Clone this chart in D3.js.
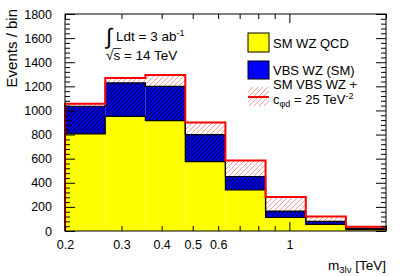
<!DOCTYPE html>
<html><head><meta charset="utf-8">
<script src="https://cdn.jsdelivr.net/npm/d3@7"></script>
<style>
html,body{margin:0;padding:0;background:#fff;}
text{font-family:"Liberation Sans",Arial,sans-serif;fill:#000;}
</style></head>
<body><svg id="c" width="407" height="276"></svg>
<script>
// bin edges (TeV), log-spaced
const binEdges = [0.2, 0.267, 0.356, 0.474, 0.632, 0.843, 1.125, 1.5, 2.0];
// SM WZ QCD events per bin
const qcdValues = [805, 950, 915, 575, 340, 112, 55, 12];
// VBS WZ (SM) events per bin (stacked on QCD)
const vbsValues = [230, 278, 285, 225, 112, 53, 25, 10];
// SM VBS WZ + c_phid = 25 TeV^-2 : total stack height
const eftTotal = [1055, 1270, 1295, 900, 585, 282, 120, 35];
const yTickValues = [0, 200, 400, 600, 800, 1000, 1200, 1400, 1600, 1800];
const xTickLabels = [0.2, 0.3, 0.4, 0.5, 0.6, 1];
const xTickMinor = [0.7, 0.8, 0.9, 2];

const svg = d3.select("#c");
const L = 65, R = 386, T = 14, B = 231;
const x = d3.scaleLog().domain([0.2, 2]).range([L, R]);
const y = d3.scaleLinear().domain([0, 1800]).range([B, T]);

const defs = svg.append("defs");
const pb = defs.append("pattern").attr("id", "hb").attr("patternUnits", "userSpaceOnUse")
  .attr("width", 4).attr("height", 4);
pb.append("rect").attr("width", 4).attr("height", 4).attr("fill", "#0000ff");
pb.append("path").attr("d", "M-1,1 l2,-2 M0,4 l4,-4 M3,5 l2,-2").attr("stroke", "#000046").attr("stroke-width", 1.1);
const pr = defs.append("pattern").attr("id", "hr").attr("patternUnits", "userSpaceOnUse")
  .attr("width", 5).attr("height", 5);
pr.append("rect").attr("width", 5).attr("height", 5).attr("fill", "#fff");
pr.append("path").attr("d", "M-1,1 l2,-2 M0,5 l5,-5 M4,6 l2,-2").attr("stroke", "#f49a9a").attr("stroke-width", 1);

const n = qcdValues.length;
const bins = d3.range(n).map(i => ({
  x0: binEdges[i], x1: binEdges[i + 1],
  q: qcdValues[i], v: qcdValues[i] + vbsValues[i], e: eftTotal[i]
}));

function stepPath(key) {
  let d = `M${x(binEdges[0])},${y(0)}`;
  bins.forEach(b => { d += `L${x(b.x0)},${y(b[key])}L${x(b.x1)},${y(b[key])}`; });
  d += `L${x(binEdges[n])},${y(0)}`;
  return d;
}

// red hatched region between vbs top and eft top
svg.append("g").selectAll("rect").data(bins).join("rect")
  .attr("x", d => x(d.x0)).attr("width", d => x(d.x1) - x(d.x0))
  .attr("y", d => y(d.e)).attr("height", d => y(d.v) - y(d.e))
  .attr("fill", "url(#hr)");
// blue
svg.append("g").selectAll("rect").data(bins).join("rect")
  .attr("x", d => x(d.x0)).attr("width", d => x(d.x1) - x(d.x0))
  .attr("y", d => y(d.v)).attr("height", d => y(d.q) - y(d.v))
  .attr("fill", "url(#hb)");
// yellow
svg.append("g").selectAll("rect").data(bins).join("rect")
  .attr("x", d => x(d.x0)).attr("width", d => x(d.x1) - x(d.x0))
  .attr("y", d => y(d.q)).attr("height", d => y(0) - y(d.q))
  .attr("fill", "#ffff00");
svg.append("path").attr("d", stepPath("v")).attr("fill", "none").attr("stroke", "#000").attr("stroke-width", 1.2);
svg.append("path").attr("d", stepPath("q")).attr("fill", "none").attr("stroke", "#000").attr("stroke-width", 1.2);
svg.append("path").attr("d", stepPath("e")).attr("fill", "none").attr("stroke", "#ff0000").attr("stroke-width", 2);

// frame
svg.append("rect").attr("x", L).attr("y", T).attr("width", R - L).attr("height", B - T)
  .attr("fill", "none").attr("stroke", "#000").attr("stroke-width", 1);

// y axes
const yMinor = d3.range(0, 1801, 40).filter(v => v % 200 !== 0);
const yl = svg.append("g").attr("transform", `translate(${L},0)`)
  .call(d3.axisLeft(y).tickValues(yTickValues).tickSize(-10).tickPadding(13).tickFormat(d3.format("d")));
yl.select(".domain").remove();
yl.selectAll("text").attr("font-size", 12.5).attr("font-family", "Liberation Sans, Arial, sans-serif");
const ylm = svg.append("g").attr("transform", `translate(${L},0)`)
  .call(d3.axisLeft(y).tickValues(yMinor).tickSize(-5).tickFormat(""));
ylm.select(".domain").remove();
const yr = svg.append("g").attr("transform", `translate(${R},0)`)
  .call(d3.axisRight(y).tickValues(yTickValues).tickSize(-10).tickFormat(""));
yr.select(".domain").remove();
const yrm = svg.append("g").attr("transform", `translate(${R},0)`)
  .call(d3.axisRight(y).tickValues(yMinor).tickSize(-5).tickFormat(""));
yrm.select(".domain").remove();

// x axes
const xb = svg.append("g").attr("transform", `translate(0,${B})`)
  .call(d3.axisBottom(x).tickValues(xTickLabels).tickSize(-5).tickPadding(9).tickFormat(d3.format("")));
xb.select(".domain").remove();
xb.selectAll("text").attr("font-size", 12.5).attr("font-family", "Liberation Sans, Arial, sans-serif");
xb.selectAll(".tick line").filter(d => d === 1).attr("y2", -9);
const xbm = svg.append("g").attr("transform", `translate(0,${B})`)
  .call(d3.axisBottom(x).tickValues(xTickMinor).tickSize(-5).tickFormat(""));
xbm.select(".domain").remove();
const xt = svg.append("g").attr("transform", `translate(0,${T})`)
  .call(d3.axisTop(x).tickValues(xTickLabels.concat(xTickMinor)).tickSize(-5).tickFormat(""));
xt.select(".domain").remove();
xt.selectAll(".tick line").filter(d => d === 1).attr("y2", 9);

// axis titles
svg.append("text").attr("transform", `translate(17,${T - 5}) rotate(-90)`)
  .attr("text-anchor", "end").attr("font-size", 15).text("Events / bin");
const xtitle = svg.append("text").attr("x", R).attr("y", 270).attr("text-anchor", "end").attr("font-size", 13.5);
xtitle.append("tspan").text("m");
xtitle.append("tspan").attr("font-size", 9.5).attr("dy", 3).text("3lν");
xtitle.append("tspan").attr("dy", -3).text(" [TeV]");

// lumi text
svg.append("text").attr("x", 106).attr("y", 44).attr("font-size", 22).attr("font-family", "DejaVu Serif, serif").text("∫");
const lt = svg.append("text").attr("x", 116).attr("y", 41).attr("font-size", 13.5);
lt.append("tspan").text("Ldt = 3 ab");
lt.append("tspan").attr("font-size", 9).attr("dy", -5).text("-1");
svg.append("text").attr("x", 106).attr("y", 60).attr("font-size", 13.5).text("√s = 14 TeV");
svg.append("line").attr("x1", 113).attr("x2", 121).attr("y1", 48.5).attr("y2", 48.5).attr("stroke", "#000").attr("stroke-width", 0.8);

// legend
const lx = 248, lw = 21;
svg.append("rect").attr("x", lx).attr("y", 33).attr("width", lw).attr("height", 19).attr("fill", "#ffff00").attr("stroke", "#000").attr("stroke-width", 1);
svg.append("rect").attr("x", lx).attr("y", 61).attr("width", lw).attr("height", 18).attr("fill", "#0000ff").attr("stroke", "#000").attr("stroke-width", 1);
svg.append("rect").attr("x", lx).attr("y", 87).attr("width", lw).attr("height", 19).attr("fill", "url(#hr)");
svg.append("line").attr("x1", lx).attr("x2", lx + lw).attr("y1", 97).attr("y2", 97).attr("stroke", "#ff0000").attr("stroke-width", 2);
svg.append("text").attr("x", 273).attr("y", 48).attr("font-size", 13).text("SM WZ QCD");
svg.append("text").attr("x", 273).attr("y", 75).attr("font-size", 13).text("VBS WZ (SM)");
svg.append("text").attr("x", 273).attr("y", 89).attr("font-size", 13).text("SM VBS WZ +");
const lc = svg.append("text").attr("x", 273).attr("y", 104).attr("font-size", 13);
lc.append("tspan").text("c");
lc.append("tspan").attr("font-size", 9).attr("dy", 3).text("φd");
lc.append("tspan").attr("dy", -3).text(" = 25 TeV");
lc.append("tspan").attr("font-size", 9).attr("dy", -5).text("-2");
</script></body></html>
